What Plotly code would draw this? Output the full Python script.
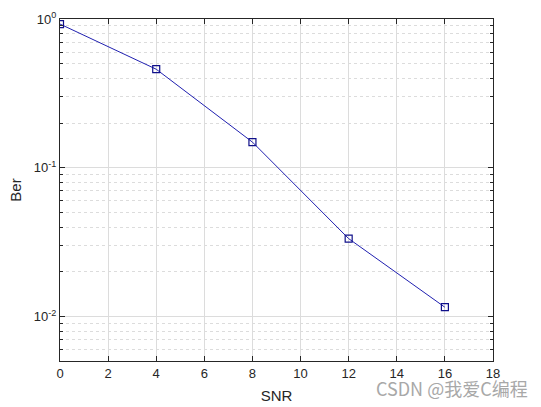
import plotly.graph_objects as go
import numpy as np

snr = [0, 4, 8, 12, 16]
ber = [0.925, 0.46, 0.149, 0.0335, 0.0116]
x_ticks = [0, 2, 4, 6, 8, 10, 12, 14, 16, 18]
y_ticks = [0.01, 0.1, 1]
y_ticktext = ["10<sup>-2</sup>", "10<sup>-1</sup>", "10<sup>0</sup>"]
y_minor = [m * 10.0 ** e for e in (-3, -2, -1) for m in range(2, 10)]

fig = go.Figure()
fig.add_trace(go.Scatter(
    x=snr, y=ber, mode="lines+markers",
    line=dict(color="#2020B0", width=1),
    marker=dict(symbol="square-open", size=7, color="#10108A", line=dict(width=1.2)),
    showlegend=False,
))

axis_common = dict(
    showline=True, linecolor="#262626", linewidth=1, mirror="ticks",
    ticks="inside", ticklen=5, tickcolor="#262626",
    showgrid=True, gridcolor="#DCDCDC", gridwidth=1, zeroline=False,
    automargin=False,
    tickfont=dict(family="Liberation Sans, Arial", size=13, color="#262626"),
)

fig.update_xaxes(
    range=[0, 18], tickvals=x_ticks, ticktext=[str(v) for v in x_ticks],
    title=dict(text="SNR", font=dict(family="Liberation Sans, Arial", size=15, color="#262626"), standoff=10),
    **axis_common,
)
fig.update_yaxes(
    type="log", range=[np.log10(0.00505), 0],
    tickvals=y_ticks, ticktext=y_ticktext,
    minor=dict(tickvals=y_minor, ticks="inside", ticklen=3, tickcolor="#262626",
               showgrid=True, gridcolor="#DCDCDC", griddash="dot", gridwidth=1),
    title=dict(text="Ber", font=dict(family="Liberation Sans, Arial", size=15, color="#262626"), standoff=8),
    **axis_common,
)

fig.add_annotation(
    text="CSDN @我爱C编程", xref="paper", yref="paper", x=1.085, y=-0.08,
    xanchor="right", yanchor="middle", showarrow=False,
    font=dict(family="Noto Sans CJK SC, Liberation Sans", size=18, color="#A8A8A8"),
)

fig.update_layout(
    width=541, height=407,
    margin=dict(l=60, r=48, t=19, b=46),
    paper_bgcolor="white", plot_bgcolor="white",
)

fig.write_html("out.html", config={"displayModeBar": False},
               post_script="document.body.style.margin='0';document.body.style.overflow='hidden';")
